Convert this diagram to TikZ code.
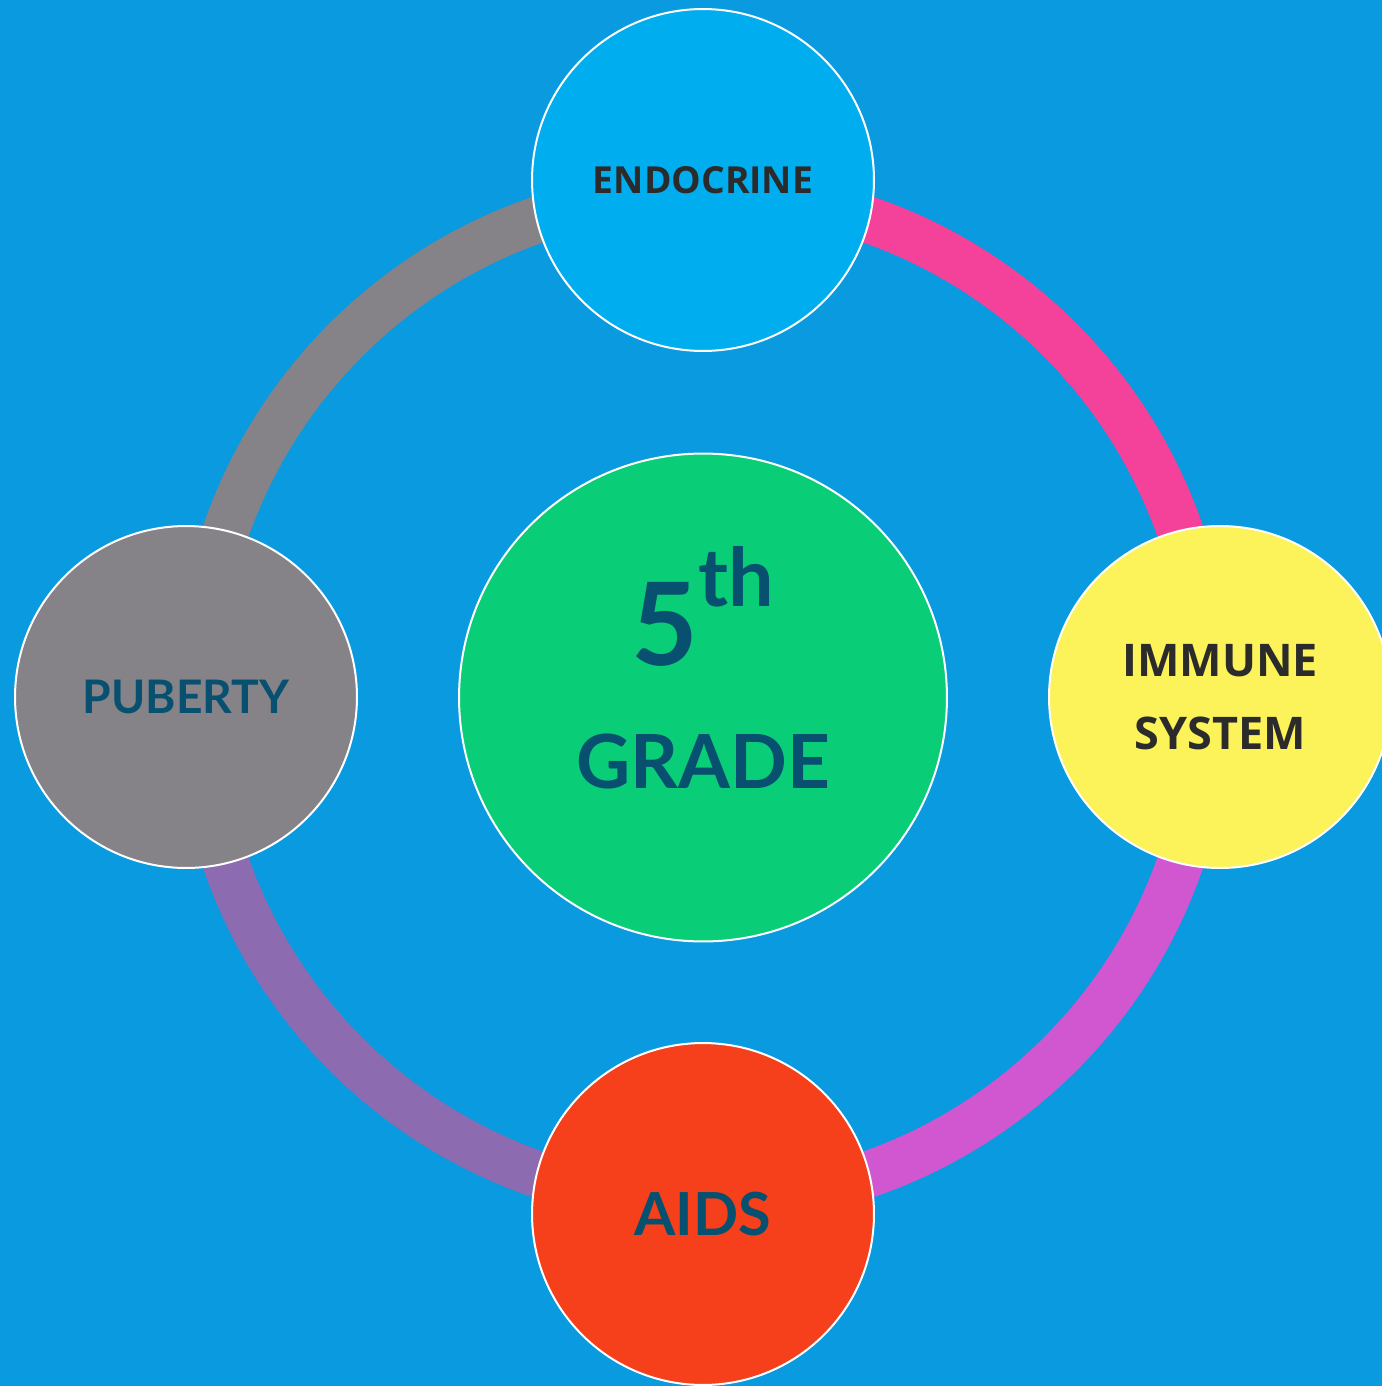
\documentclass[tikz,border=0pt]{standalone}
\usepackage{fontspec}
\setmainfont{Open Sans}
\newfontfamily\latofont{Lato}
\usetikzlibrary{positioning}
\definecolor{bgblue}{HTML}{0A9ADF}
\definecolor{endoblue}{HTML}{00AEEF}
\definecolor{gradegreen}{HTML}{0ACD78}
\definecolor{immuneyellow}{HTML}{FCF25A}
\definecolor{aidsred}{HTML}{F5401B}
\definecolor{pubgray}{HTML}{858388}
\definecolor{ringpink}{HTML}{F4419A}
\definecolor{ringmagenta}{HTML}{D157D0}
\definecolor{ringpurple}{HTML}{8C6BB1}
\definecolor{inkblue}{HTML}{07506F}
\definecolor{inkgray}{HTML}{2B2B2B}
\begin{document}
\begin{tikzpicture}[x=0.02cm, y=-0.02cm,
    topic/.style={circle, draw=white, line width=0.04cm, minimum size=6.84cm, inner sep=0pt, align=center},
    ringpart/.style={line width=0.93cm}]
            % background
            \fill[bgblue] (0,0) rectangle (1382,1386);
            \useasboundingbox (0,0) rectangle (1382,1386);
            \clip (0,0) rectangle (1382,1386);

            % ring (y axis points down, so 270 is up)
            \coordinate (hub) at (703,697);
            \draw[ringpart, pubgray] (hub) ++(180:505) arc[start angle=180, end angle=270, radius=505];
            \draw[ringpart, ringpink] (hub) ++(270:505) arc[start angle=270, end angle=360, radius=505];
            \draw[ringpart, ringmagenta] (hub) ++(0:505) arc[start angle=0, end angle=90, radius=505];
            \draw[ringpart, ringpurple] (hub) ++(90:505) arc[start angle=90, end angle=180, radius=505];

            % topics
            \node[topic, fill=endoblue, text=inkgray, font=\fontsize{21.2}{25}\selectfont\bfseries]
                (endocrine) at (703,180) {ENDOCRINE};
            \node[topic, fill=immuneyellow, text=inkgray, font=\fontsize{25.6}{41.5}\selectfont\bfseries]
                (immune) at (1220,697) {IMMUNE\\SYSTEM};
            \node[topic, fill=aidsred, text=inkblue, font=\latofont\fontsize{33.8}{38}\selectfont\bfseries]
                (aids) at (703,1214) {AIDS};
            \node[topic, fill=pubgray, text=inkblue, font=\latofont\fontsize{26.3}{30}\selectfont\bfseries]
                (puberty) at (186,697) {PUBERTY};

            % grade
            \node[topic, fill=gradegreen, minimum size=9.76cm] (grade) at (703,697.5) {};
            \node[anchor=base, inner sep=0pt, text=inkblue] (fifth) at (703,665)
                {\latofont\bfseries\fontsize{65.5}{70}\selectfont 5\raisebox{1.18cm}{\fontsize{46}{50}\selectfont th}};
            \node[anchor=base, inner sep=0pt, text=inkblue] (gradelabel) at (703,788)
                {\latofont\bfseries\fontsize{42.5}{48}\selectfont GRADE};
\end{tikzpicture}
\end{document}
